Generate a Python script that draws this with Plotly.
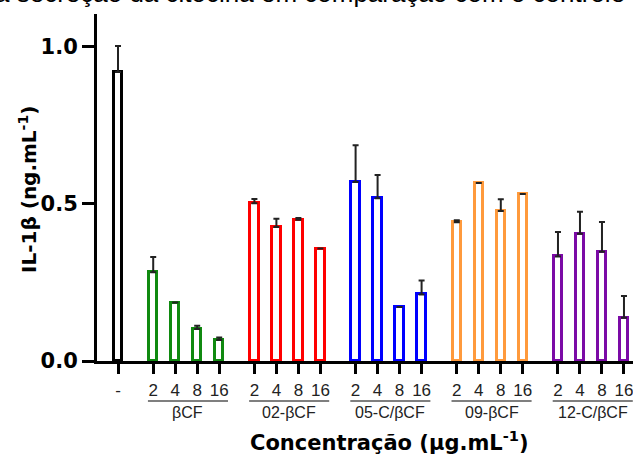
import plotly.graph_objects as go

# IL-1β secretion (ng/mL) per treatment and concentration (µg/mL)
control_label = "-"
control_value = 0.920
control_error = 0.083

concentrations = ["2", "4", "8", "16"]
groups = ["βCF", "02-βCF", "05-C/βCF", "09-βCF", "12-C/βCF"]
group_colors = ["#108a10", "#ff0000", "#0000ff", "#ff9a3c", "#7b0aa6"]

means = [
    [0.283, 0.186, 0.102, 0.067],
    [0.502, 0.427, 0.450, 0.358],
    [0.570, 0.518, 0.172, 0.212],
    [0.442, 0.567, 0.478, 0.532],
    [0.333, 0.405, 0.348, 0.138],
]
errors = [
    [0.048, None, 0.010, 0.008],
    [0.014, 0.026, 0.005, None],
    [0.117, 0.074, None, 0.044],
    [0.006, None, 0.037, None],
    [0.078, 0.070, 0.095, 0.069],
]

# horizontal layout of the bar slots
first_offset = 1.6
group_stride = 4.6
bar_width = 0.38

fig = go.Figure()

err_style = dict(type="data", symmetric=False, color="#222222", thickness=2, width=3)

fig.add_trace(go.Bar(
    x=[0], y=[control_value], width=bar_width,
    marker=dict(color="white", line=dict(color="black", width=3)),
    error_y=dict(array=[control_error], arrayminus=[0], **err_style),
    showlegend=False,
))

tickvals = [0]
ticktext = [control_label]
for g, name in enumerate(groups):
    xs = [first_offset + group_stride * g + i for i in range(len(concentrations))]
    tickvals += xs
    ticktext += concentrations
    fig.add_trace(go.Bar(
        x=xs, y=means[g], width=bar_width,
        marker=dict(color="white", line=dict(color=group_colors[g], width=3)),
        error_y=dict(array=errors[g], arrayminus=[0] * len(xs), **err_style),
        showlegend=False, name=name,
    ))
    # grey underline under the concentration labels and the group name
    fig.add_shape(type="line", xref="x", yref="paper",
                  x0=xs[0] - 0.24, x1=xs[-1] + 0.4, y0=-0.1153, y1=-0.1153,
                  line=dict(color="#7f7f7f", width=2))
    fig.add_annotation(xref="x", yref="paper", x=(xs[0] - 0.24 + xs[-1] + 0.4) / 2,
                       y=-0.147, yanchor="middle", showarrow=False, text=name,
                       font=dict(family="Liberation Sans", size=16, color="#222222"))

fig.add_annotation(xref="paper", yref="paper", x=0.5466, y=-0.2305, yanchor="middle",
                   showarrow=False, text="Concentração (µg.mL<sup>-1</sup>)",
                   font=dict(family="DejaVu Sans", size=21, color="black", weight="bold"))

fig.add_annotation(xref="paper", yref="paper", x=-0.1287, y=0.493, textangle=-90,
                   xanchor="center", yanchor="middle", showarrow=False,
                   text="IL-1β (ng.mL<sup>-1</sup>)",
                   font=dict(family="DejaVu Sans", size=20, color="black", weight="bold"))

# caption line running above the chart
fig.add_annotation(xref="paper", yref="paper", x=-0.194, y=1.011, xanchor="left",
                   yanchor="bottom", showarrow=False,
                   text="a secreção da citocina em comparação com o controle",
                   font=dict(family="Liberation Sans", size=26, color="black"))

fig.update_layout(
    width=633, height=455,
    margin=dict(l=97, r=0, t=14, b=94),
    paper_bgcolor="white", plot_bgcolor="white",
    bargap=0,
    xaxis=dict(range=[-0.955, 23.41], tickmode="array", tickvals=tickvals, ticktext=ticktext,
               showline=True, linecolor="black", linewidth=3, ticks="outside",
               ticklen=10, tickwidth=3, tickcolor="black", showgrid=False, zeroline=False,
               tickfont=dict(family="Liberation Sans", size=17, color="#222222"),
               ticklabelstandoff=2, ticklabeloverflow="allow"),
    yaxis=dict(range=[0, 1.105], tickmode="array", tickvals=[0, 0.5, 1.0],
               ticktext=["0.0", "0.5", "1.0"],
               showline=True, linecolor="black", linewidth=3, ticks="outside",
               ticklen=12, tickwidth=3, tickcolor="black", showgrid=False, zeroline=False,
               tickfont=dict(family="DejaVu Sans", size=21, color="black", weight="bold")),
)

fig.write_html("out.html")
